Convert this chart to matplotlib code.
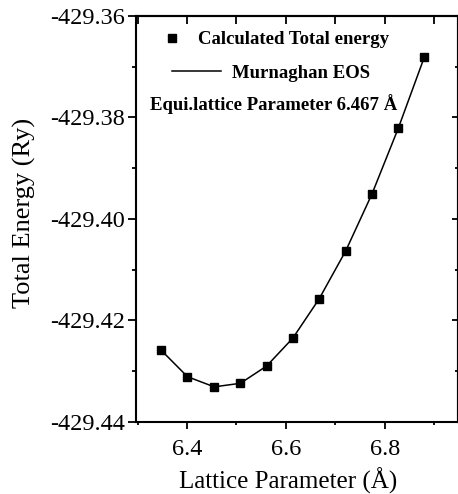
import matplotlib
matplotlib.use("Agg")
import matplotlib.pyplot as plt
from matplotlib.ticker import MultipleLocator, FormatStrFormatter
from matplotlib.lines import Line2D

plt.rcParams['font.family'] = ['Liberation Serif', 'DejaVu Serif']

# lattice parameter (Å) and total energy (Ry)
lattice = [6.348, 6.401, 6.455, 6.508, 6.561, 6.614, 6.667, 6.721, 6.774, 6.827, 6.880]
energy = [-429.4259, -429.4311, -429.4331, -429.4324, -429.4290, -429.4235,
          -429.4158, -429.4063, -429.3951, -429.3822, -429.3681]

fig = plt.figure(figsize=(4.58, 4.94), dpi=100)
ax = fig.add_axes([0.297, 0.146, 0.702, 0.822])

ax.plot(lattice, energy, color='black', lw=1.1, zorder=2)
ax.plot(lattice, energy, ls='none', marker='s', ms=6, color='black', zorder=3)

ax.set_xlim(6.297, 6.947)
ax.set_ylim(-429.44, -429.36)
ax.xaxis.set_major_locator(MultipleLocator(0.2))
ax.xaxis.set_minor_locator(MultipleLocator(0.1))
ax.yaxis.set_major_locator(MultipleLocator(0.02))
ax.yaxis.set_minor_locator(MultipleLocator(0.01))
ax.xaxis.set_major_formatter(FormatStrFormatter('%.1f'))
ax.yaxis.set_major_formatter(FormatStrFormatter('%.2f'))

for sp in ax.spines.values():
    sp.set_linewidth(1.5)

ax.tick_params(which='both', direction='out', labelsize=17.5, width=1.3,
               top=False, right=False)
ax.tick_params(axis='x', which='major', length=5, pad=7.5)
ax.tick_params(axis='x', which='minor', length=2.5)
ax.tick_params(axis='y', which='major', length=6, pad=2)
ax.tick_params(axis='y', which='minor', length=3)

# mirrored ticks on top and right pointing inward
top = ax.secondary_xaxis('top')
top.xaxis.set_major_locator(MultipleLocator(0.2))
top.xaxis.set_minor_locator(MultipleLocator(0.1))
top.tick_params(which='both', direction='in', length=6, width=1.3, labeltop=False)
top.spines['top'].set_linewidth(1.5)
right = ax.secondary_yaxis('right')
right.yaxis.set_major_locator(MultipleLocator(0.02))
right.yaxis.set_minor_locator(MultipleLocator(0.01))
right.tick_params(which='major', direction='in', length=4, width=1.3, labelright=False)
right.tick_params(which='minor', direction='in', length=2.5, width=1.3)
right.spines['right'].set_linewidth(1.5)

ax.set_xlabel('Lattice Parameter (Å)', fontsize=18, labelpad=5, x=0.472)
ax.set_ylabel('Total Energy (Ry)', fontsize=19, labelpad=10, y=0.514)

bold = {'weight': 'bold', 'size': 13.5}
sq = Line2D([], [], ls='none', marker='s', ms=6, color='black')
ln = Line2D([], [], color='black', lw=1.1)
leg1 = ax.legend([sq], ['Calculated Total energy'], loc='center left', frameon=False,
                 bbox_to_anchor=(0.083, 0.941), borderpad=0, borderaxespad=0,
                 handlelength=1.0, handletextpad=0.9, prop=bold)
ax.add_artist(leg1)
ax.legend([ln], ['Murnaghan EOS'], loc='center left', frameon=False,
          bbox_to_anchor=(0.112, 0.859), borderpad=0, borderaxespad=0,
          handlelength=2.6, handletextpad=0.6, prop=bold)

ax.text(0.044, 0.783, 'Equi.lattice Parameter 6.467 Å', transform=ax.transAxes,
        fontsize=13.5, fontweight='bold', va='center', ha='left')

fig.savefig('out.png', dpi=100)
